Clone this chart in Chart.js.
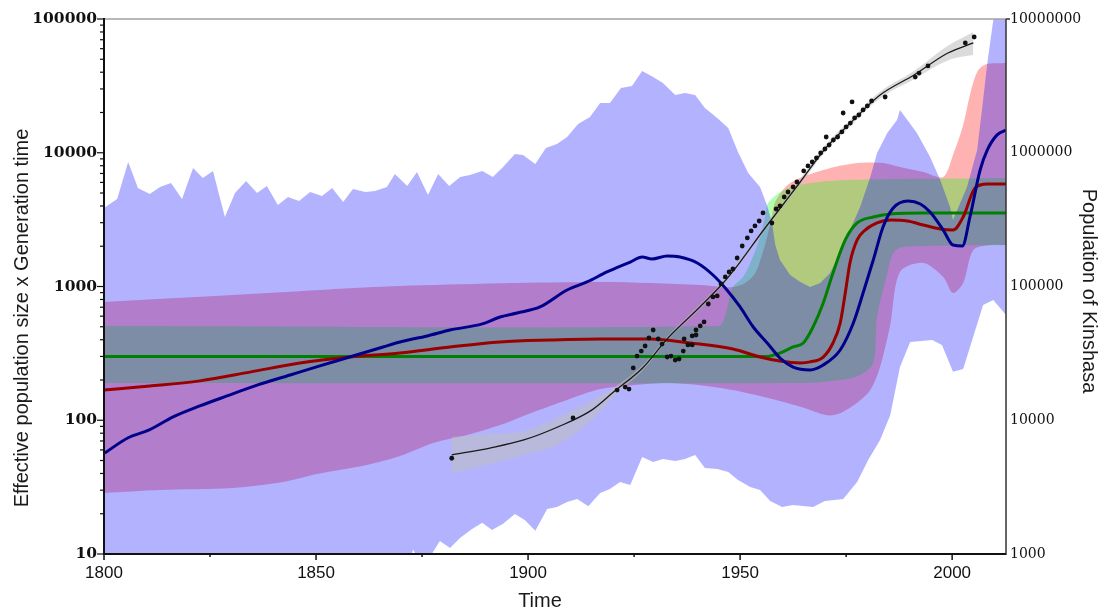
<!DOCTYPE html>
<html>
<head>
<meta charset="utf-8">
<script src="https://cdn.jsdelivr.net/npm/chart.js@4.4.1/dist/chart.umd.min.js"></script>
<style>
  html, body { margin: 0; padding: 0; background: #fff; }
  #wrap { width: 1101px; height: 610px; }
</style>
</head>
<body>
<div id="wrap"><canvas id="chart" width="1101" height="610"></canvas></div>
<script>
// --- Effective population size (left axis) ---
const blueUpYears = [1800.0, 1803.1, 1805.7, 1808.0, 1810.8, 1813.2, 1815.8, 1818.4, 1821.0, 1823.3,
    1825.7, 1828.5, 1830.9, 1833.5, 1836.1, 1838.4, 1841.0, 1843.4, 1846.0, 1848.6,
    1851.4, 1853.8, 1856.4, 1858.7, 1861.6, 1863.9, 1866.7, 1868.6, 1871.5, 1873.8,
    1876.4, 1878.8, 1881.4, 1884.0, 1886.3, 1889.2, 1891.7, 1894.1, 1896.9, 1898.8,
    1901.7, 1904.2, 1906.8, 1909.2, 1911.8, 1914.6, 1917.0, 1919.3, 1921.9, 1924.5,
    1926.9, 1929.5, 1931.8, 1934.7, 1937.0, 1939.4, 1941.7, 1944.6, 1947.2, 1949.5,
    1951.9, 1954.7, 1956.4, 1957.5, 1958.3, 1959.4, 1961.8, 1964.2, 1966.5, 1968.9,
    1971.2, 1973.6, 1975.9, 1978.3, 1980.7, 1982.3, 1984.7, 1987.0, 1987.7, 1991.7,
    1994.8, 1997.2, 1999.5, 2000.2, 2003.5, 2005.9, 2007.3, 2008.3, 2009.7, 2012.7];
const blueUp = [3860, 4510, 8530, 5450, 4920, 5550, 5940, 4510, 7700, 6480,
    7300, 3310, 5000, 6150, 5000, 5640, 4060, 4670, 4360, 5090,
    4750, 5450, 4280, 5350, 5090, 5180, 5550, 6930, 5640, 7180,
    4830, 6930, 5640, 6590, 6820, 7300, 6590, 7820, 9790, 9620,
    8240, 10860, 11620, 13120, 16410, 18500, 23540, 23540, 30480, 31560,
    40840, 36820, 33240, 27050, 27990, 27050, 21610, 18200, 15310, 10140,
    7060, 5550, 4000, 3030, 2040, 1580, 1220, 1080, 990, 1060,
    1260, 1780, 2640, 3930, 6590, 9960, 14060, 17590, 20890, 14060,
    9290, 6250, 3930, 3140, 5550, 10500, 24770, 46880, 98400, 150000];

const blueLowYears = [1800, 1871.0, 1872.9, 1874.5, 1876.4, 1879.2, 1881.6, 1884.0, 1886.8, 1889.2,
    1891.5, 1894.1, 1896.9, 1899.3, 1901.7, 1904.5, 1906.8, 1909.2, 1911.6, 1914.2,
    1917.0, 1919.3, 1921.7, 1924.1, 1926.9, 1929.5, 1931.8, 1934.7, 1937.0, 1939.4,
    1941.7, 1944.6, 1947.2, 1949.5, 1952.4, 1954.7, 1957.1, 1959.9, 1962.5, 1967.2,
    1970.0, 1974.3, 1977.6, 1980.2, 1983.0, 1985.4, 1987.7, 1990.1, 1995.3, 1997.6,
    2000.2, 2002.6, 2007.3, 2009.7, 2012.7];
const blueLow = [6, 7, 10.8, 8.5, 9, 12.5, 11.1, 13.2, 15.4, 17.1,
    15.1, 16.8, 19.9, 17.9, 14.9, 21.7, 22.5, 24.5, 25.8, 22.8,
    28.6, 30.6, 34.5, 32.8, 53.1, 48.7, 51.3, 49.6, 51.3, 55.0,
    44.0, 43.2, 41.0, 35.7, 31.7, 30.1, 24.9, 22.5, 23.2, 22.5,
    24.9, 25.8, 34.5, 50.5, 71.1, 109, 250, 385, 398, 365,
    230, 242, 728, 793, 612];

const redUpYears = [1800, 1834.4, 1869.8, 1917.0, 1940.6, 1946.0, 1948.3, 1951.2, 1953.6, 1955.0,
    1956.2, 1957.3, 1958.3, 1961.8, 1969.6, 1977.6, 1983.7, 1987.7, 1993.2, 1997.9,
    2000.2, 2002.6, 2004.2, 2005.9, 2008.0, 2012.7];
const redUp = [766, 879, 1009, 1081, 1026, 991, 991, 1062, 1262, 1662,
    2228, 3100, 4300, 5942, 7430, 8380, 8380, 7820, 7178, 6590,
    9620, 16140, 27050, 40180, 45800, 46880];

const redLowYears = [1800, 1813.2, 1830.4, 1842.2, 1850.2, 1862.0, 1869.8, 1877.6, 1885.6, 1893.4,
    1901.2, 1909.2, 1917.0, 1924.8, 1932.8, 1940.6, 1948.3, 1956.4, 1964.2, 1970.5,
    1973.6, 1977.6, 1980.7, 1983.0, 1985.4, 1987.7, 1993.2, 1997.9, 2000.2, 2002.6,
    2005.0, 2009.0, 2012.7];
const redLow = [28.6, 30.1, 31.1, 34.5, 39.6, 46.3, 54.0, 67.6, 77.6, 92.1,
    115, 142, 171, 183, 190, 183, 168, 147, 126, 109,
    113, 135, 168, 250, 515, 1282, 1500, 1178, 894, 1062,
    1876, 2042, 2042];

const greenUpYears = [1800, 1945, 1946.5, 1948.3, 1950.7, 1953, 1954.7, 1955.9, 1956.6, 1960.3, 1965, 1975, 2012.7];
const greenUp = [507, 507, 612, 991, 1178, 1662, 2344, 3311, 4210, 5260, 5840, 6250, 6475];
const greenLowYears = [1800, 1965, 1973.6, 1978.3, 1981.4, 1982.3, 1984.7, 1986.1, 1988.4, 2012.7];
const greenLow = [190, 190, 200, 218, 268, 592, 1262, 1778, 1972, 2042];

const blueMedYears = [1800.2, 1805.7, 1810.8, 1816.3, 1822.6, 1829.0, 1836.1, 1843.9, 1850.9, 1858.7,
    1865.8, 1869.8, 1876.2, 1881.6, 1889.2, 1893.4, 1897.4, 1902.8, 1909.2, 1913.9,
    1918.6, 1924.1, 1926.9, 1929.2, 1932.8, 1935.8, 1939.9, 1943.6, 1946.9, 1950.0,
    1953.1, 1956.4, 1959.4, 1962.5, 1966.5, 1969.6, 1973.6, 1976.7, 1979.0, 1981.4,
    1983.7, 1986.1, 1989.6, 1992.5, 1994.8, 1997.9, 2000.2, 2002.4, 2004.2, 2006.6,
    2008.3, 2010.6, 2012.7];
const blueMed = [57, 74, 85, 106, 128, 152, 183, 218, 255, 302,
    353, 385, 427, 473, 525, 592, 634, 703, 942, 1081,
    1284, 1524, 1662, 1606, 1691, 1662, 1499, 1219, 942, 703,
    498, 378, 292, 250, 238, 259, 335, 533, 894, 1578,
    2786, 3864, 4359, 4139, 3605, 2643, 2042, 2008, 3311, 7430,
    10500, 13600, 14800];

const redMedYears = [1800, 1810.8, 1822.6, 1834.4, 1846.2, 1858.0, 1869.8, 1881.6, 1893.4, 1905.2,
    1917.0, 1928.8, 1938.2, 1948.3, 1954.7, 1959.4, 1964.2, 1966.5, 1969.6, 1971.9,
    1973.6, 1974.8, 1975.9, 1977.6, 1979.5, 1982.3, 1985.4, 1989.4, 1993.2, 1997.2,
    2000.2, 2002.6, 2005.4, 2008.3, 2012.7];
const redMed = [168, 180, 197, 229, 268, 297, 318, 353, 385, 398,
    405, 405, 378, 341, 297, 277, 268, 273, 297, 378,
    533, 894, 1500, 2228, 2644, 2985, 3143, 3090, 2884, 2692,
    2644, 3311, 5450, 5840, 5840];

const greenMedYears = [1800, 1956.4, 1959.4, 1962.5, 1964.9, 1967.2, 1969.6, 1971.9, 1974.8, 1977.6, 1981.4, 1985.4, 1993.2, 2012.7];
const greenMed = [300, 300, 318, 353, 378, 498, 753, 1262, 2228, 2985, 3311, 3485, 3548, 3548];

// --- Population of Kinshasa (right axis) ---
const popYears = [1882, 1910.6, 1921, 1922.9, 1923.8, 1924.8, 1925.7, 1926.7, 1927.6, 1928.5,
    1929.5, 1930.7, 1931.6, 1932.8, 1933.7, 1934.7, 1935.6, 1936.6, 1936.8, 1937.7,
    1938.7, 1938.7, 1939.6, 1939.6, 1940.6, 1941.5, 1942.5, 1943.6, 1944.6, 1945.5,
    1946.5, 1947.4, 1948.3, 1949.3, 1950.5, 1951.7, 1952.6, 1953.5, 1954.5, 1955.4,
    1957.5, 1958.5, 1959.4, 1960.4, 1961.3, 1962.5, 1963.4, 1965, 1966, 1967,
    1968, 1969, 1970, 1970.3, 1971, 1972, 1973, 1974, 1974.3, 1975,
    1976, 1976.4, 1977, 1978, 1979, 1980, 1981, 1984.2, 1991.3, 1992.2,
    1994.3, 2003.1, 2005.2];
const pop = [5200, 10400, 16800, 17700, 17100, 24600, 30200, 32900, 35900, 41200,
    47300, 40500, 37100, 29700, 30200, 28200, 28700, 32900, 40500, 36600,
    36600, 42700, 43400, 47300, 50700, 54300, 74000, 83500, 85000, 104500,
    117900, 128400, 135100, 163300, 200900, 230600, 260300, 283500, 308800, 354600,
    298500, 379700, 399800, 467000, 509000, 554700, 604500, 731000, 797000, 853000,
    914000, 996000, 1067000, 1312000, 1143000, 1245000, 1312000, 1430000, 1982000, 1559000,
    1668000, 2397000, 1820000, 1916000, 2089000, 2239000, 2440000, 2612000, 3680000, 3945000,
    4455000, 6622000, 7335000];

const fitYears = [1882, 1891, 1899, 1907, 1915, 1920.5, 1927, 1933, 1940.5, 1946,
    1950, 1955, 1959.5, 1964, 1970, 1976, 1983, 1991, 1999, 2005];
const fit = [5500, 6200, 7120, 8900, 11900, 16600, 24600, 41200, 70300, 106200,
    152400, 251200, 386400, 594000, 1067000, 1668000, 2702000, 3813000, 5568000, 6622000];
const fitLow = [4000, 4700, 5500, 6600, 10000, 15300, 23500, 39700, 67500, 102000,
    146000, 240000, 368000, 563000, 1010000, 1580000, 2550000, 3550000, 4900000, 5400000];
const fitHigh = [7500, 7900, 8300, 10500, 14000, 17800, 25800, 42800, 73200, 110500,
    159000, 263000, 406000, 627000, 1127000, 1760000, 2860000, 4090000, 6300000, 8000000];

const xTicks = [1800, 1850, 1900, 1950, 2000];
const leftTicks = [10, 100, 1000, 10000, 100000];
const rightTicks = [1000, 10000, 100000, 1000000, 10000000];

const pts = (xs, ys) => xs.map((x, i) => ({ x, y: ys[i] }));

const NONE = "rgba(0,0,0,0)";

function band(data, fillColor, order, tension, yAxisID = "y") {
    return {
        data,
        fill: "-1",
        backgroundColor: fillColor,
        borderColor: NONE,
        borderWidth: 0,
        pointRadius: 0,
        tension,
        order,
        yAxisID,
    };
}

function edge(data, order, tension, yAxisID = "y") {
    return {
        data,
        fill: false,
        borderColor: NONE,
        borderWidth: 0,
        pointRadius: 0,
        tension,
        order,
        yAxisID,
    };
}

function medianLine(data, color, order) {
    return {
        data,
        fill: false,
        borderColor: color,
        borderWidth: 3,
        pointRadius: 0,
        cubicInterpolationMode: "monotone",
        order,
        yAxisID: "y",
    };
}

// axis lines, tick marks and titles
const axisDecor = {
    id: "axisDecor",
    afterDraw(chart) {
        const { ctx, chartArea: a, scales } = chart;
        const seg = (x1, y1, x2, y2) => {
            ctx.beginPath();
            ctx.moveTo(x1, y1);
            ctx.lineTo(x2, y2);
            ctx.stroke();
        };
        ctx.save();

        ctx.strokeStyle = "#a0a0a0";
        ctx.lineWidth = 1.5;
        seg(a.left, a.top, a.right, a.top);

        ctx.strokeStyle = "#333";
        ctx.lineWidth = 1.5;
        seg(a.right, a.top, a.right, a.bottom + 1);
        seg(a.right, a.top, a.right + 4, a.top);

        ctx.strokeStyle = "#111";
        ctx.lineWidth = 2;
        seg(a.left, a.top - 1, a.left, a.bottom + 1);
        seg(a.left, a.bottom, a.right, a.bottom);

        // log ticks on the left axis
        const yL = scales.y;
        ctx.lineWidth = 1.2;
        leftTicks.forEach((d) => {
            const py = yL.getPixelForValue(d);
            seg(a.left - 7, py, a.left, py);
            if (d < 100000) {
                for (let m = 2; m <= 9; m++) {
                    const my = yL.getPixelForValue(d * m);
                    seg(a.left - 4, my, a.left, my);
                }
            }
        });

        // time ticks
        const xs = scales.x;
        ctx.lineWidth = 1.5;
        xTicks.forEach((t) => {
            const px = xs.getPixelForValue(t);
            seg(px, a.bottom, px, a.bottom + 6);
        });
        [1825, 1875, 1925, 1975].forEach((t) => {
            const px = xs.getPixelForValue(t);
            seg(px, a.bottom, px, a.bottom + 3);
        });

        // titles
        ctx.fillStyle = "#1a1a1a";
        ctx.font = "20px 'Liberation Sans', Arial, sans-serif";
        ctx.textAlign = "center";
        ctx.textBaseline = "alphabetic";

        ctx.save();
        ctx.translate(28, 318);
        ctx.rotate(-Math.PI / 2);
        ctx.fillText("Effective population size x Generation time", 0, 0);
        ctx.restore();

        ctx.save();
        ctx.translate(1083, 291);
        ctx.rotate(Math.PI / 2);
        ctx.fillText("Population of Kinshasa", 0, 0);
        ctx.restore();

        ctx.textBaseline = "middle";
        ctx.fillText("Time", 540, 601);

        ctx.restore();
    },
};

const datasets = [
    // red band
    edge(pts(redLowYears, redLow), 20, 0.3),
    band(pts(redUpYears, redUp), "rgba(255,0,0,0.3)", 20, 0.3),
    // green band
    edge(pts(greenLowYears, greenLow), 19, 0.3),
    band(pts(greenUpYears, greenUp), "rgba(0,255,0,0.3)", 19, 0.3),
    // blue band
    edge(pts(blueLowYears, blueLow), 18, 0),
    band(pts(blueUpYears, blueUp), "rgba(0,0,255,0.3)", 18, 0),
    // confidence band of the population fit
    edge(pts(fitYears, fitLow), 17, 0.4, "yR"),
    band(pts(fitYears, fitHigh), "rgba(190,190,190,0.55)", 17, 0.4, "yR"),
    // medians
    medianLine(pts(greenMedYears, greenMed), "#008000", 6),
    medianLine(pts(redMedYears, redMed), "#990000", 5),
    medianLine(pts(blueMedYears, blueMed), "#00008b", 4),
    {
        data: pts(fitYears, fit),
        fill: false,
        borderColor: "#1a1a1a",
        borderWidth: 1.3,
        pointRadius: 0,
        cubicInterpolationMode: "monotone",
        order: 2,
        yAxisID: "yR",
    },
    {
        data: pts(popYears, pop),
        showLine: false,
        fill: false,
        pointRadius: 2.4,
        pointBackgroundColor: "#111",
        pointBorderWidth: 0,
        order: 1,
        yAxisID: "yR",
    },
];

new Chart(document.getElementById("chart"), {
    type: "line",
    data: { datasets },
    plugins: [axisDecor],
    options: {
        responsive: false,
        animation: false,
        events: [],
        layout: { padding: { top: 19, left: 0, right: 0, bottom: 0 } },
        plugins: { legend: { display: false }, tooltip: { enabled: false } },
        scales: {
            x: {
                type: "linear",
                min: 1800,
                max: 2012.7,
                grid: { display: false, drawTicks: false },
                border: { display: false },
                afterBuildTicks: (s) => { s.ticks = xTicks.map((v) => ({ value: v })); },
                afterFit: (s) => { s.height = 56; },
                ticks: {
                    padding: 9,
                    maxRotation: 0,
                    autoSkip: false,
                    color: "#111",
                    font: { family: "'Liberation Sans', Arial, sans-serif", size: 17 },
                    callback: (v) => String(v),
                },
            },
            y: {
                type: "logarithmic",
                position: "left",
                min: 10,
                max: 100000,
                grid: { display: false, drawTicks: false },
                border: { display: false },
                afterBuildTicks: (s) => { s.ticks = leftTicks.map((v) => ({ value: v })); },
                afterFit: (s) => { s.width = 104; },
                ticks: {
                    padding: 7,
                    color: "#111",
                    font: { family: "'DejaVu Serif', serif", size: 15.5, weight: "bold" },
                    callback: (v) => String(v),
                },
            },
            yR: {
                type: "logarithmic",
                position: "right",
                min: 1000,
                max: 10000000,
                grid: { display: false, drawTicks: false },
                border: { display: false },
                afterBuildTicks: (s) => { s.ticks = rightTicks.map((v) => ({ value: v })); },
                afterFit: (s) => { s.width = 95; },
                ticks: {
                    padding: 4,
                    color: "#111",
                    font: { family: "'DejaVu Serif', serif", size: 14 },
                    callback: (v) => String(v),
                },
            },
        },
    },
});
</script>
</body>
</html>
